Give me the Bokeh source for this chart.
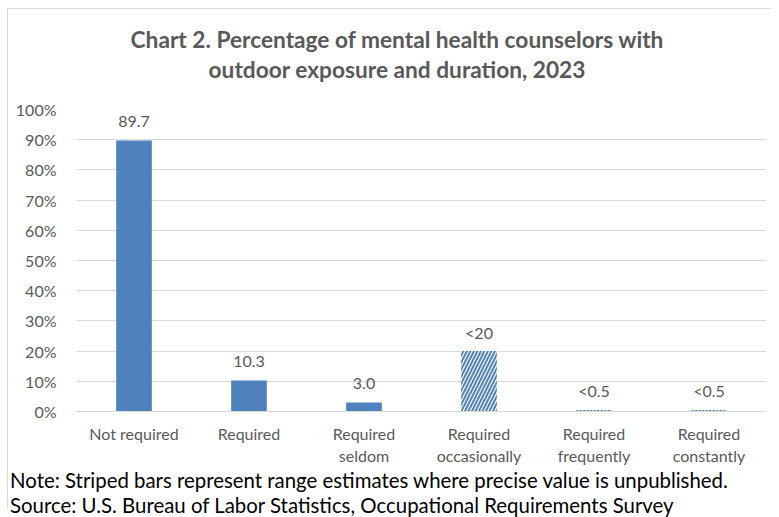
from bokeh.plotting import figure
from bokeh.models import FactorRange, Range1d, ColumnDataSource, FixedTicker, Div
from bokeh.layouts import column
from bokeh.core.properties import value
from bokeh.embed import file_html
from bokeh.resources import INLINE

categories = ["Not required", "Required", "Required\nseldom", "Required\noccasionally",
              "Required\nfrequently", "Required\nconstantly"]
values = [89.7, 10.3, 3.0, 20.0, 0.5, 0.5]
value_labels = ["89.7", "10.3", "3.0", "<20", "<0.5", "<0.5"]
striped = [False, False, False, True, True, True]
y_ticks = [0, 10, 20, 30, 40, 50, 60, 70, 80, 90, 100]
title_lines = ["Chart 2. Percentage of mental health counselors with",
               "outdoor exposure and duration, 2023"]
notes = ["Note: Striped bars represent range estimates where precise value is unpublished.",
         "Source: U.S. Bureau of Labor Statistics, Occupational Requirements Survey"]

FONT = "Lato"
BLUE = "#4F81BD"
GRAY = "#595959"
W = 763

title_div = Div(
    text='<div style="font-family:Lato; font-weight:bold; font-size:22.7px; color:#595959; '
         'text-align:center; line-height:30px; padding-top:16px; margin-left:15px; '
         'width:748px; white-space:nowrap">' + "<br>".join(title_lines) + "</div>",
    width=W, height=85, margin=0)

p = figure(x_range=FactorRange(*categories, range_padding=0), y_range=Range1d(0, 100),
           width=W, height=374, output_backend="svg", toolbar_location=None,
           min_border_left=68, min_border_right=5, min_border_top=15, min_border_bottom=57,
           margin=0)
p.outline_line_color = None
p.background_fill_color = "white"

solid = ColumnDataSource(dict(x=[c for c, s in zip(categories, striped) if not s],
                              top=[v for v, s in zip(values, striped) if not s]))
hatched = ColumnDataSource(dict(x=[c for c, s in zip(categories, striped) if s],
                                top=[v for v, s in zip(values, striped) if s]))
p.vbar(x="x", top="top", width=0.31, source=solid, fill_color=BLUE, line_color=None)
p.vbar(x="x", top="top", width=0.31, source=hatched, fill_color="white", line_color=None,
       hatch_pattern="/", hatch_color=BLUE, hatch_weight=2, hatch_scale=7)

lab = ColumnDataSource(dict(x=categories, y=values, t=value_labels))
p.text(x="x", y="y", text="t", source=lab, text_align="center", text_baseline="middle",
       y_offset=-19, text_font=value(FONT), text_font_size="16px", text_color=GRAY)

p.xgrid.grid_line_color = None
p.ygrid.grid_line_color = "#d9d9d9"
p.ygrid.ticker = FixedTicker(ticks=y_ticks)
p.yaxis.ticker = FixedTicker(ticks=y_ticks)
p.yaxis.major_label_overrides = {t: f"{t}%" for t in y_ticks}
p.yaxis.axis_line_color = None
p.yaxis.major_tick_line_color = None
p.yaxis.minor_tick_line_color = None
p.yaxis.major_label_standoff = 14
p.xaxis.axis_line_color = "#d9d9d9"
p.xaxis.major_tick_line_color = None
p.xaxis.major_label_standoff = 6
for ax in (p.xaxis, p.yaxis):
    ax.major_label_text_font = FONT
    ax.major_label_text_font_size = "16px"
    ax.major_label_text_color = GRAY

notes_div = Div(
    text='<div style="font-family:Lato; font-size:20.4px; color:black; line-height:25px; '
         'padding-left:2px; white-space:nowrap">' + "<br>".join(notes) + "</div>",
    width=W, height=41, margin=0)

layout = column(title_div, p, notes_div, spacing=0)
layout.styles = {"border-left": "1px solid #d9d9d9", "border-top": "1px solid #d9d9d9",
                 "margin-left": "7px", "margin-top": "8px"}

open("out.html", "w").write(file_html(layout, INLINE))
